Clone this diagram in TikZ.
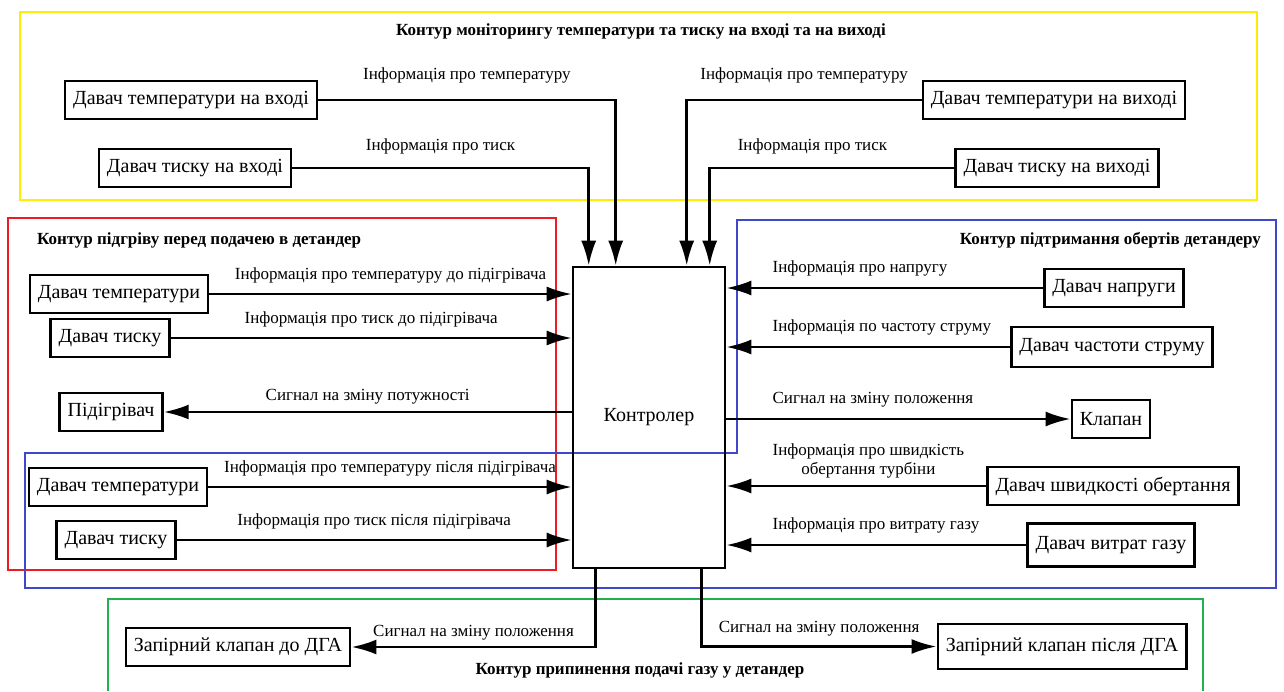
\documentclass[tikz,border=0pt]{standalone}
\usepackage{fontspec}
\setmainfont{Liberation Serif}
\usetikzlibrary{calc, arrows.meta}

\definecolor{frmyellow}{RGB}{255,236,0}
\definecolor{frmred}{RGB}{237,28,36}
\definecolor{frmblue}{RGB}{63,72,204}
\definecolor{frmgreen}{RGB}{34,177,76}

\tikzset{
	dev/.style={draw, line width=1.3pt, inner xsep=4pt, minimum height=19pt, font=\fontsize{10}{12}\selectfont},
	sig/.style={line width=1.3pt, -{Latex[length=12.5pt, width=7.5pt]}},
	lbl/.style={inner sep=1pt, font=\fontsize{8.5}{9.5}\selectfont},
	rlbl/.style={lbl, anchor=south west, xshift=21.5pt, yshift=4.5pt},
	ttl/.style={font=\fontsize{8.5}{10}\selectfont\bfseries},
	frm/.style={line width=1pt}
}

\begin{document}
\begin{tikzpicture}[x=0.5pt, y=-0.5pt]
		\useasboundingbox (0,0) rectangle (1284,691);
		
		\draw [frm, frmyellow] (20,12) rectangle (1257,200);
		\draw [frm, frmred] (8,218) rectangle (556,570);
		\draw [frm, frmblue] (737,220) -- (1276,220) -- (1276,588) -- (25,588) -- (25,453) -- (737,453) -- cycle;
		\draw [frm, frmgreen] (108,691) |- (1203,599) -- (1203,691);
		
		\node [ttl] (tmon) at (641,31) {Контур моніторингу температури та тиску на вході та на виході};
		\node [ttl, anchor=west] (theat) at (30,240) {Контур підгріву перед подачею в детандер};
		\node [ttl, anchor=east] (tspd) at (1268,240) {Контур підтримання обертів детандеру};
		\node [ttl] (tstop) at (640,670) {Контур припинення подачі газу у детандер};
		
		\node [draw, line width=1.3pt, minimum width=76pt, minimum height=150.5pt, font=\fontsize{10}{12}\selectfont] (ctrl) at (649,417.5) {Контролер};
		
		\node [dev] (tin) at (191,100) {Давач температури на вході};
		\node [dev] (pin) at (195,168) {Давач тиску на вході};
		\node [dev] (tout) at (1054,100) {Давач температури на виході};
		\node [dev] (pout) at (1057,168) {Давач тиску на виході};
		
		\draw [sig] (tin.east) -| ($(ctrl.north west)+(44,0)$) node [lbl, pos=0.25, above=7pt] (ltin) {Інформація про температуру};
		\draw [sig] (pin.east) -| ($(ctrl.north west)+(17,0)$) node [lbl, pos=0.25, above=5.5pt] (lpin) {Інформація про тиск};
		\draw [sig] (tout.west) -| ($(ctrl.north west)+(115,0)$) node [lbl, pos=0.25, above=7pt] (ltout) {Інформація про температуру};
		\draw [sig] (pout.west) -| ($(ctrl.north west)+(138,0)$) node [lbl, pos=0.29, above=5.5pt] (lpout) {Інформація про тиск};
		
		\node [dev] (t1) at (119,294) {Давач температури};
		\node [dev] (p1) at (110,338) {Давач тиску};
		\node [dev] (heat) at (111,412) {Підігрівач};
		\node [dev] (t2) at (118,487) {Давач температури};
		\node [dev] (p2) at (116,540) {Давач тиску};
		
		\draw [sig] (t1.east) -- (t1.east -| ctrl.west) node [lbl, midway, above=4pt] (lt1) {Інформація про температуру до підігрівача};
		\draw [sig] (p1.east) -- (p1.east -| ctrl.west) node [lbl, midway, above=4pt] (lp1) {Інформація про тиск до підігрівача};
		\draw [sig] (heat.east -| ctrl.west) -- (heat.east) node [lbl, midway, above=2.5pt] (lheat) {Сигнал на зміну потужності};
		\draw [sig] (t2.east) -- (t2.east -| ctrl.west) node [lbl, midway, above=4pt] (lt2) {Інформація про температуру після підігрівача};
		\draw [sig] (p2.east) -- (p2.east -| ctrl.west) node [lbl, midway, above=4pt] (lp2) {Інформація про тиск після підігрівача};
		
		\node [dev] (volt) at (1114,288) {Давач напруги};
		\node [dev, minimum height=20pt] (freq) at (1112,347) {Давач частоти струму};
		\node [dev] (valve) at (1111,419) {Клапан};
		\node [dev] (rpm) at (1113,486) {Давач швидкості обертання};
		\node [dev, minimum height=21.5pt] (flow) at (1111,545) {Давач витрат газу};
		
		\draw [sig] (volt.west) -- (volt.west -| ctrl.east) node [rlbl] (lvolt) {Інформація про напругу};
		\draw [sig] (freq.west) -- (freq.west -| ctrl.east) node [rlbl] (lfreq) {Інформація по частоту струму};
		\draw [sig] (valve.west -| ctrl.east) node [rlbl] (lvalve) {Сигнал на зміну положення} -- (valve.west);
		\draw [sig] (rpm.west) -- (rpm.west -| ctrl.east) node [rlbl, align=center, yshift=-2pt] (lrpm) {Інформація про швидкість\\обертання турбіни};
		\draw [sig] (flow.west) -- (flow.west -| ctrl.east) node [rlbl] (lflow) {Інформація про витрату газу};
		
		\node [dev] (sv1) at (238,647) {Запірний клапан до ДГА};
		\node [dev, minimum height=22.5pt] (sv2) at (1062,646.5) {Запірний клапан після ДГА};
		
		\draw [sig] ($(ctrl.south west)+(24,0)$) |- (sv1.east) node [lbl, pos=0.75, above=2pt] (lsv1) {Сигнал на зміну положення};
		\draw [sig] ($(ctrl.south west)+(130,0)$) |- (sv2.west) node [lbl, pos=0.75, above=3.5pt] (lsv2) {Сигнал на зміну положення};
	\end{tikzpicture}
\end{document}
